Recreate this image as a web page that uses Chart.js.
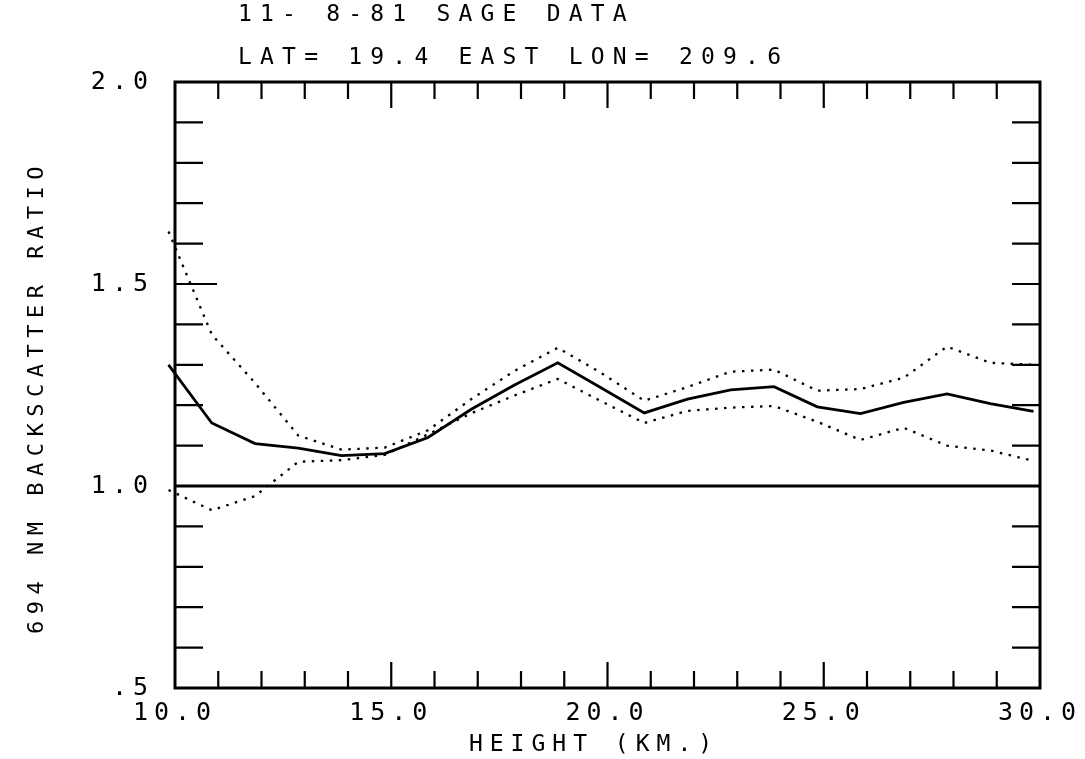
<!DOCTYPE html>
<html>
<head>
<meta charset="utf-8">
<script src="https://cdn.jsdelivr.net/npm/chart.js@4/dist/chart.umd.min.js"></script>
<style>
html, body { margin: 0; padding: 0; background: #fff; }
</style>
</head>
<body>
<canvas id="sage" width="1085" height="759"></canvas>
<script>
// heights (km) of the profile points
var heights = [9.85, 10.85, 11.85, 12.85, 13.85, 14.85, 15.85, 16.85, 17.85, 18.85, 19.85,
               20.85, 21.85, 22.85, 23.85, 24.85, 25.85, 26.85, 27.85, 28.85, 29.85];
// 694 nm backscatter ratio: mean profile and the two dotted bounds
var ratioMean  = [1.30, 1.156, 1.105, 1.094, 1.075, 1.080, 1.120, 1.19, 1.25, 1.305, 1.243,
                  1.181, 1.215, 1.238, 1.246, 1.196, 1.179, 1.207, 1.228, 1.204, 1.185];
var ratioUpper = [1.63, 1.375, 1.255, 1.125, 1.090, 1.095, 1.138, 1.215, 1.285, 1.342, 1.28,
                  1.211, 1.245, 1.283, 1.288, 1.236, 1.240, 1.268, 1.345, 1.305, 1.300];
var ratioLower = [0.99, 0.94, 0.975, 1.06, 1.064, 1.077, 1.128, 1.18, 1.224, 1.265, 1.21,
                  1.156, 1.186, 1.194, 1.198, 1.159, 1.114, 1.144, 1.100, 1.088, 1.062];
// reference line at ratio 1.0
var refHeights = [10, 30];
var refRatio = [1.0, 1.0];

var xLabels = ['10.0', '15.0', '20.0', '25.0', '30.0'];
var yLabels = ['.5', '1.0', '1.5', '2.0'];
var titleLines = ['11- 8-81 SAGE DATA', 'LAT= 19.4 EAST LON= 209.6'];
var xTitle = 'HEIGHT (KM.)';
var yTitle = '694 NM BACKSCATTER RATIO';

var MONO = '"DejaVu Sans Mono", "Liberation Mono", monospace';

function pts(xs, ys) {
    return xs.map(function (x, i) { return { x: x, y: ys[i] }; });
}

// frame with inward tick marks, like the old plotter output
var framePlugin = {
    id: 'frame',
    beforeDraw: function (chart) {
        chart.ctx.letterSpacing = '6px';
    },
    beforeDatasetsDraw: function (chart) {
        var ctx = chart.ctx, a = chart.chartArea;
        var sx = chart.scales.x, sy = chart.scales.y;
        ctx.save();
        ctx.strokeStyle = '#000';
        ctx.lineWidth = 3;
        ctx.strokeRect(a.left, a.top, a.right - a.left, a.bottom - a.top);
        ctx.lineWidth = 2.2;
        ctx.beginPath();
        for (var k = 11; k < 30; k++) {
            var px = sx.getPixelForValue(k);
            var len = (k % 5 === 0) ? 26 : 17;
            ctx.moveTo(px, a.bottom); ctx.lineTo(px, a.bottom - len);
            ctx.moveTo(px, a.top); ctx.lineTo(px, a.top + len);
        }
        for (var j = 6; j < 20; j++) {
            var py = sy.getPixelForValue(j / 10);
            var l = (j === 15) ? 42 : 28;
            ctx.moveTo(a.left, py); ctx.lineTo(a.left + l, py);
            ctx.moveTo(a.right, py); ctx.lineTo(a.right - 28, py);
        }
        ctx.stroke();
        ctx.restore();
    },
    afterDraw: function (chart) {
        var ctx = chart.ctx;
        ctx.save();
        ctx.fillStyle = '#000';
        ctx.textBaseline = 'middle';
        ctx.textAlign = 'left';
        ctx.font = '23px ' + MONO;
        ctx.letterSpacing = '8.2px';
        ctx.fillText(titleLines[0], 238, 15);
        ctx.fillText(titleLines[1], 238, 58);

        ctx.font = '23px ' + MONO;
        ctx.letterSpacing = '7px';
        ctx.textAlign = 'center';
        ctx.fillText(xTitle, 594, 745);

        ctx.font = '22px ' + MONO;
        ctx.letterSpacing = '6.5px';
        ctx.translate(37, 400);
        ctx.rotate(-Math.PI / 2);
        ctx.fillText(yTitle, 3, 0);
        ctx.restore();
    }
};

var ctx = document.getElementById('sage').getContext('2d');
var chart = new Chart(ctx, {
    type: 'line',
    data: {
        datasets: [
            { data: pts(refHeights, refRatio), borderColor: '#000', borderWidth: 3 },
            { data: pts(heights, ratioMean), borderColor: '#000', borderWidth: 2.8 },
            { data: pts(heights, ratioUpper), borderColor: '#000', borderWidth: 2.3, borderDash: [2.5, 6.5] },
            { data: pts(heights, ratioLower), borderColor: '#000', borderWidth: 2.3, borderDash: [2.5, 6.5] }
        ]
    },
    options: {
        responsive: false,
        animation: false,
        devicePixelRatio: 1,
        layout: { padding: { top: 82, right: 45, left: 0, bottom: 0 } },
        elements: {
            point: { radius: 0, hoverRadius: 0 },
            line: { tension: 0, fill: false }
        },
        datasets: { line: { clip: false } },
        plugins: {
            legend: { display: false },
            title: { display: false },
            tooltip: { enabled: false }
        },
        events: [],
        scales: {
            x: {
                type: 'linear',
                min: 10, max: 30,
                grid: { display: false, drawTicks: false },
                border: { display: false },
                ticks: {
                    stepSize: 1,
                    autoSkip: false,
                    maxRotation: 0,
                    padding: 10,
                    color: '#000',
                    font: { family: MONO, size: 25 },
                    callback: function (v) {
                        return (v % 5 === 0) ? xLabels[(v - 10) / 5] : '';
                    }
                },
                afterFit: function (s) {
                    s.height = 71;
                    s.paddingLeft = 0; s.paddingRight = 0;
                }
            },
            y: {
                type: 'linear',
                min: 0.5, max: 2.0,
                grid: { display: false, drawTicks: false },
                border: { display: false },
                ticks: {
                    stepSize: 0.1,
                    autoSkip: false,
                    padding: 21,
                    color: '#000',
                    font: { family: MONO, size: 25 },
                    callback: function (v) {
                        var k = Math.round(v * 10);
                        return (k % 5 === 0) ? yLabels[(k - 5) / 5] : '';
                    }
                },
                afterFit: function (s) {
                    s.width = 175;
                    s.paddingTop = 0; s.paddingBottom = 0;
                }
            }
        }
    },
    plugins: [framePlugin]
});
</script>
</body>
</html>
